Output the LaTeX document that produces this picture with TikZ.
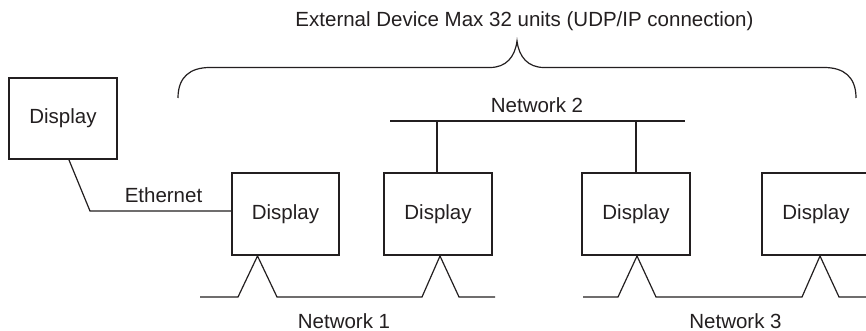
\documentclass[tikz,border=0pt]{standalone}
\usepackage{fontspec}
\setmainfont{Liberation Sans}
\definecolor{ink}{RGB}{35,31,32}
\begin{document}
\begin{tikzpicture}[x=1pt,y=-1pt,
  dev/.style={draw=ink,line width=2pt,minimum width=108pt,minimum height=82pt,inner sep=0pt,text=ink,font=\fontsize{20.5}{24}\selectfont},
  lbl/.style={anchor=base,inner sep=0pt,text=ink,font=\fontsize{20.5}{24}\selectfont},
  wire/.style={draw=ink,line width=1.2pt,line join=miter}]
\clip (0,0) rectangle (866,331);
\fill[white] (0,0) rectangle (866,331);
% title and brace
\node[lbl] (title) at (524.5,27) {External Device Max 32 units (UDP/IP connection)};
\coordinate (btip) at (517,41);
\draw[wire] (178,98) .. controls (178,77) and (190,67.5) .. (210,67.5) -- (490,67.5)
  .. controls (506,67.5) and (515,57) .. (btip)
  .. controls (519,57) and (528,67.5) .. (544,67.5) -- (824,67.5)
  .. controls (844,67.5) and (856,77) .. (856,98);
% devices
\node[dev,minimum height=81pt] (d0) at (63,118.5) {Display};
\node[dev,minimum width=107pt] (d1) at (285.5,214) {Display};
\node[dev] (d2) at (438,214) {Display};
\node[dev] (d3) at (636,214) {Display};
\node[dev] (d4) at (816,214) {Display};
% ethernet
\coordinate (ebend) at (90,211);
\draw[wire] ([xshift=6pt]d0.south) -- (ebend) -- ([yshift=3pt]d1.west);
\node[lbl] (eth) at (163.5,202) {Ethernet};
% network 2
\coordinate (n2l) at (390,121);
\coordinate (n2r) at (685,121);
\draw[wire] (n2l) -- (n2r);
\draw[wire] ([xshift=-1pt]d2.north) -- ([xshift=-1pt]d2.north |- n2l);
\draw[wire] (d3.north) -- (d3.north |- n2l);
\node[lbl] (net2) at (537,113) {Network 2};
% network 1
\coordinate (n1a) at (200,297);
\coordinate (n1b) at (495,297);
\draw[wire] (n1a) -- (238,297) -- ([xshift=-28pt]d1.south) -- (277,297) -- (422,297)
  -- ([xshift=2pt]d2.south) -- (459,297) -- (n1b);
\node[lbl] (net1) at (344,328) {Network 1};
% network 3
\coordinate (n3a) at (583,297);
\coordinate (n3b) at (872,297);
\draw[wire] (n3a) -- (618,297) -- ([xshift=1pt]d3.south) -- (656,297) -- (802,297)
  -- ([xshift=4pt]d4.south) -- (839,297) -- (n3b);
\node[lbl] (net3) at (735.5,328) {Network 3};
\end{tikzpicture}
\end{document}
